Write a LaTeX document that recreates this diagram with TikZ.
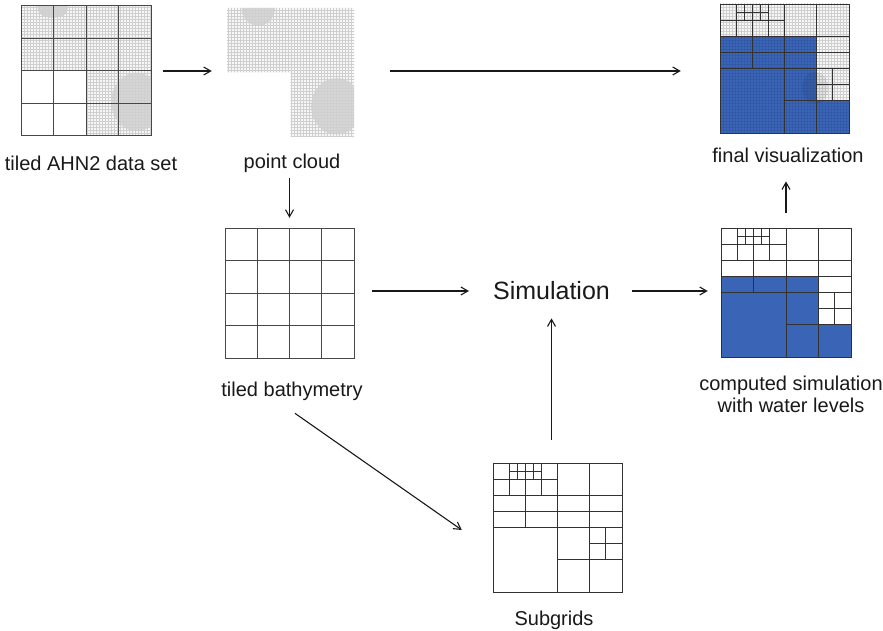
\documentclass[tikz,border=0pt]{standalone}
\usepackage{fontspec}
\setmainfont{Liberation Sans}
\usetikzlibrary{arrows.meta,patterns,calc}
\definecolor{water}{RGB}{58,100,182}
\definecolor{waterdk}{RGB}{35,65,130}
\definecolor{ink}{RGB}{25,25,25}
\definecolor{gridln}{RGB}{50,50,50}
\newcommand\quadlines{%
  \draw[ql] (0,0) rectangle (8,8);
  \draw[ql] (4,0) -- (4,8) (6,0) -- (6,8) (0,2) -- (8,2) (0,3) -- (8,3) (0,4) -- (8,4)
            (2,0) -- (2,4) (0,1) -- (4,1) (1,0) -- (1,2) (3,0) -- (3,2)
            (1.5,0) -- (1.5,1) (2.5,0) -- (2.5,1) (1,0.5) -- (3,0.5)
            (4,6) -- (8,6) (6,5) -- (8,5) (7,4) -- (7,6);
}
\newcommand\tilelines{%
  \foreach \i in {2,4,6} {\draw[tl] (\i,0) -- (\i,8); \draw[tl] (0,\i) -- (8,\i);}
  \draw[tl] (0,0) rectangle (8,8);
}
\begin{document}
\begin{tikzpicture}[x=1pt,y=-1pt,
  arr/.style={-{Straight Barb[length=7pt,width=8pt]}, line width=1.1pt, draw=ink},
  lab/.style={font=\fontsize{20}{22}\selectfont, text=ink, inner sep=0pt, anchor=base},
  boxnode/.style={draw=none, inner sep=0pt, minimum width=#1},
  ql/.style={draw=gridln, line width=0.95pt},
  tl/.style={draw=gridln!90, line width=1pt},
  dots/.style={pattern=grid, pattern color=gray!38},
]
\useasboundingbox (0,0) rectangle (883,631);
\fill[white] (0,0) rectangle (883,631);

% ---------- placeholder nodes for the pictures ----------
\node[boxnode=130pt, minimum height=130pt] (ahn) at (86,71) {};
\node[boxnode=127pt, minimum height=129pt] (pc) at (290.5,72.5) {};
\node[boxnode=129pt, minimum height=129pt] (fv) at (784.5,68.5) {};
\node[boxnode=129pt, minimum height=130pt] (bath) at (289.5,293) {};
\node[boxnode=130pt, minimum height=129pt] (comp) at (786,292.5) {};
\node[boxnode=129pt, minimum height=129pt] (sub) at (557.5,527.5) {};

% ---------- tiled AHN2 data set ----------
\begin{scope}[shift={(21,6)}, x=16.25pt, y=-16.25pt]
  \fill[white] (0,0) rectangle (8,8);
  \fill[gray!6] (0,0) -- (8,0) -- (8,8) -- (4,8) -- (4,4) -- (0,4) -- cycle;
  \begin{scope}
    \clip (0,0) -- (8,0) -- (8,8) -- (4,8) -- (4,4) -- (0,4) -- cycle;
    \fill[gray!34] (1.95,0.05) ellipse (0.95 and 0.8);
    \draw[white, line width=1.2pt] (1.15,0.55) .. controls (1.5,0.85) and (2.4,0.85) .. (2.75,0.55);
    \fill[gray!32] (7.1,5.9) ellipse (1.55 and 1.8);
    \fill[dots] (0,0) -- (8,0) -- (8,8) -- (4,8) -- (4,4) -- (0,4) -- cycle;
  \end{scope}
  \tilelines
\end{scope}
\node[lab] (ahnlab) at (91,171) {tiled AHN2 data set};

% ---------- point cloud ----------
\begin{scope}[shift={(227,8)}, x=15.875pt, y=-16.125pt]
  \fill[gray!6] (0,0) -- (8,0) -- (8,8) -- (4,8) -- (4,4) -- (0,4) -- cycle;
  \begin{scope}
    \clip (0,0) -- (8,0) -- (8,8) -- (4,8) -- (4,4) -- (0,4) -- cycle;
    \fill[gray!32] (1.97,0) ellipse (1.05 and 1.1);
    \fill[gray!32] (6.9,6.1) ellipse (1.6 and 1.75);
    \fill[dots] (0,0) -- (8,0) -- (8,8) -- (4,8) -- (4,4) -- (0,4) -- cycle;
  \end{scope}
\end{scope}
\node[lab] (pclab) at (292,169) {point cloud};

% ---------- final visualization ----------
\begin{scope}[shift={(720,4)}, x=16.125pt, y=-16.125pt]
  \fill[gray!6] (0,0) rectangle (8,8);
  \fill[dots] (0,0) rectangle (8,8);
  \fill[water] (0,2) -- (6,2) -- (6,6) -- (8,6) -- (8,8) -- (0,8) -- cycle;
  \begin{scope}
    \clip (0,0) rectangle (8,8);
    \fill[black, opacity=0.08] (5.9,5.2) ellipse (0.8 and 1.0);
  \end{scope}
  \fill[pattern=grid, pattern color=waterdk, opacity=0.22] (0,2) -- (6,2) -- (6,6) -- (8,6) -- (8,8) -- (0,8) -- cycle;
  \quadlines
\end{scope}
\node[lab] (fvlab) at (788,163) {final visualization};

% ---------- tiled bathymetry ----------
\begin{scope}[shift={(225,228)}, x=16.125pt, y=-16.25pt]
  \tilelines
\end{scope}
\node[lab] (bathlab) at (292,396) {tiled bathymetry};

% ---------- computed simulation ----------
\begin{scope}[shift={(721,228)}, x=16.25pt, y=-16.125pt]
  \fill[white] (0,0) rectangle (8,8);
  \fill[water] (0,3) -- (6,3) -- (6,6) -- (8,6) -- (8,8) -- (0,8) -- cycle;
  \quadlines
\end{scope}
\node[lab, anchor=north, align=center] (complab) at (791,376) {computed simulation\\with water levels};

% ---------- subgrids ----------
\begin{scope}[shift={(493,463)}, x=16.125pt, y=-16.125pt]
  \quadlines
\end{scope}
\node[lab] (sublab) at (554,625) {Subgrids};

% ---------- simulation ----------
\node[font=\fontsize{25}{28}\selectfont, text=ink, inner sep=0pt] (sim) at (551.5,291) {Simulation};

% ---------- connectors ----------
\draw[arr, shorten <=12pt, shorten >=15pt] (ahn.east) -- (ahn.east -| pc.west);
\draw[arr, shorten <=36pt, shorten >=39pt] (ahn.east -| pc.east) -- (ahn.east -| fv.west);
\draw[arr, shorten <=5pt, shorten >=10pt] (bath.north |- pclab.south) -- (bath.north);
\draw[arr, shorten <=18pt, shorten >=24pt] (bath.east |- sim.west) -- (sim.west);
\draw[arr, shorten <=22pt, shorten >=13pt] (sim.east) -- (sim.east -| comp.west);
\draw[arr, shorten <=15pt, shorten >=18pt] (comp.north) -- (comp.north |- fvlab.south);
\draw[arr, shorten <=23pt, shorten >=18pt] (sub.north -| sim.south) -- (sim.south);
\draw[arr] ($(bathlab.south)+(3,13)$) -- ($(sub.west)+(-31,2.5)$);
\end{tikzpicture}
\end{document}
